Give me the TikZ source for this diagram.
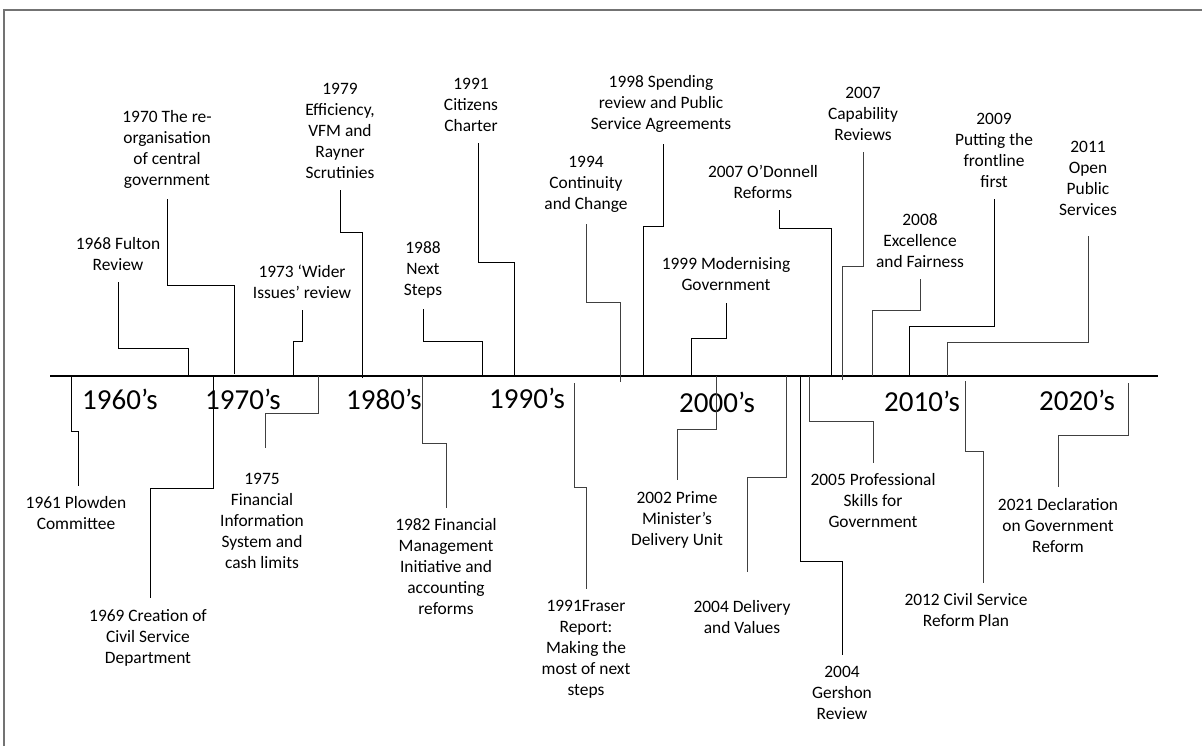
\documentclass[tikz,border=0pt]{standalone}
\usepackage{fontspec}
\setmainfont{Carlito}
\usepackage{tikz}

\begin{document}
\begin{tikzpicture}[x=0.5pt, y=-0.5pt,
	event/.style={align=center, inner xsep=2pt, inner ysep=5.5pt, font=\fontsize{8.7}{10.5}\selectfont},
	decade/.style={inner sep=0pt, font=\fontsize{14.5}{17}\selectfont},
	link/.style={draw=black, line width=0.5pt},
	linkgrey/.style={draw=black!75, line width=0.5pt}]

	\useasboundingbox (0,0) rectangle (1202,746);

	% Frame and time axis
	\draw [black!55, line width=1pt] (4,746) -- (4,10) -- (1202,10);
	\coordinate (axis-start) at (50,376);
	\coordinate (axis-end)   at (1158,376);
	\draw [line width=1.2pt] (axis-start) -- (axis-end);

	% Decades
	\node [decade] (d1960) at (120,399)  {1960’s};
	\node [decade] (d1970) at (243,399)  {1970’s};
	\node [decade] (d1980) at (384,399)  {1980’s};
	\node [decade] (d1990) at (527,398)  {1990’s};
	\node [decade] (d2000) at (717,402)  {2000’s};
	\node [decade] (d2010) at (922,401)  {2010’s};
	\node [decade] (d2020) at (1077,400) {2020’s};

	% Events above the axis
	\node [event] (fulton)     at (118,254)   {1968 Fulton\\Review};
	\node [event] (reorg)      at (167,149)   {1970 The re-\\organisation\\of central\\government};
	\node [event] (wider)      at (302,282)   {1973 ‘Wider\\Issues’ review};
	\node [event] (effic)      at (340,131)   {1979\\Efficiency,\\VFM and\\Rayner\\Scrutinies};
	\node [event] (nextsteps)  at (423,269.5) {1988\\Next\\Steps};
	\node [event] (charter)    at (471,104.5) {1991\\Citizens\\Charter};
	\node [event] (continuity) at (586,184.5) {1994\\Continuity\\and Change};
	\node [event] (spending)   at (661,104)   {1998 Spending\\review and Public\\Service Agreements};
	\node [event] (modern)     at (726,274.5) {1999 Modernising\\Government};
	\node [event] (odonnell)   at (763,182)   {2007 O’Donnell\\Reforms};
	\node [event] (capability) at (863,113.5) {2007\\Capability\\Reviews};
	\node [event] (excellence) at (920,240.5) {2008\\Excellence\\and Fairness};
	\node [event] (frontline)  at (994,150.5) {2009\\Putting the\\frontline\\first};
	\node [event] (openps)     at (1088,178.5) {2011\\Open\\Public\\Services};

	% Events below the axis
	\node [event] (plowden)     at (76,513.5)  {1961 Plowden\\Committee};
	\node [event] (creation)    at (148,637.5) {1969 Creation of\\Civil Service\\Department};
	\node [event] (fis)         at (262,521)   {1975\\Financial\\Information\\System and\\cash limits};
	\node [event] (fmi)         at (446,567)   {1982 Financial\\Management\\Initiative and\\accounting\\reforms};
	\node [event] (fraser)      at (586,649)   {1991Fraser\\Report:\\Making the\\most of next\\steps};
	\node [event] (pmdu)        at (677,519.5) {2002 Prime\\Minister’s\\Delivery Unit};
	\node [event] (delivery)    at (742,617.5) {2004 Delivery\\and Values};
	\node [event] (gershon)     at (842,693)   {2004\\Gershon\\Review};
	\node [event] (skills)      at (873,501)   {2005 Professional\\Skills for\\Government};
	\node [event] (csrp)        at (966,610.5) {2012 Civil Service\\Reform Plan};
	\node [event] (declaration) at (1058,525.5) {2021 Declaration\\on Government\\Reform};

	% Points on the axis
	\coordinate (t-fulton)     at (188,376);
	\coordinate (t-reorg)      at (234,374);
	\coordinate (t-wider)      at (293,376);
	\coordinate (t-effic)      at (362,378);
	\coordinate (t-nextsteps)  at (482,376);
	\coordinate (t-charter)    at (514,376);
	\coordinate (t-continuity) at (620,382);
	\coordinate (t-spending)   at (643,376);
	\coordinate (t-modern)     at (691,376);
	\coordinate (t-odonnell)   at (831,376);
	\coordinate (t-capability) at (842,380);
	\coordinate (t-excellence) at (872,376);
	\coordinate (t-frontline)  at (909,376);
	\coordinate (t-openps)     at (947,376);

	\coordinate (b-plowden)     at (71,376);
	\coordinate (b-creation)    at (213,376);
	\coordinate (b-fis)         at (318,376);
	\coordinate (b-fmi)         at (422,376);
	\coordinate (b-fraser)      at (574,383);
	\coordinate (b-pmdu)        at (716,376);
	\coordinate (b-delivery)    at (786,376);
	\coordinate (b-gershon)     at (800,376);
	\coordinate (b-skills)      at (809,376);
	\coordinate (b-csrp)        at (965,381);
	\coordinate (b-declaration) at (1128,383);

	% Paths
	\draw [link]     (t-fulton)     -- ++(0,-28)  -| (fulton.south);
	\draw [link]     (t-reorg)      -- ++(0,-89)  -| (reorg.south);
	\draw [link]     (t-wider)      -- ++(0,-35)  -| (wider.south);
	\draw [link]     (t-effic)      -- ++(0,-146) -| (effic.south);
	\draw [link]     (t-nextsteps)  -- ++(0,-35)  -| (nextsteps.south);
	\draw [link]     (t-charter)    -- ++(0,-114) -| ([xshift=3.5pt]charter.south);
	\draw [linkgrey] (t-continuity) -- ++(0,-80)  -| (continuity.south);
	\draw [link]     (t-spending)   -- ++(0,-150) -| ([xshift=1pt]spending.south);
	\draw [link]     (t-modern)     -- ++(0,-38)  -| (modern.south);
	\draw [link]     (t-odonnell)   -- ++(0,-148) -| ([xshift=8pt]odonnell.south);
	\draw [linkgrey] (t-capability) -- ++(0,-114) -| (capability.south);
	\draw [linkgrey] (t-excellence) -- ++(0,-66)  -| (excellence.south);
	\draw [link]     (t-frontline)  -- ++(0,-50)  -| (frontline.south);
	\draw [linkgrey] (t-openps)     -- ++(0,-34)  -| ([yshift=-4.5pt]openps.south);

	\draw [link]     (b-plowden)     -- ++(0,55)  -| ([xshift=1pt]plowden.north);
	\draw [link]     (b-creation)    -- ++(0,112) -| ([xshift=1pt]creation.north);
	\draw [linkgrey] (b-fis)         -- ++(0,37)  -| ([xshift=1.5pt,yshift=7pt]fis.north);
	\draw [linkgrey] (b-fmi)         -- ++(0,67)  -| (fmi.north);
	\draw [linkgrey] (b-fraser)      -- ++(0,104) -| (fraser.north);
	\draw [linkgrey] (b-pmdu)        -- ++(0,53)  -| (pmdu.north);
	\draw [linkgrey] (b-delivery)    -- ++(0,101) -| ([xshift=2.5pt,yshift=9pt]delivery.north);
	\draw [link]     (b-gershon)     -- ++(0,185) -| (gershon.north);
	\draw [linkgrey] (b-skills)      -- ++(0,45)  -| (skills.north);
	\draw [linkgrey] (b-csrp)        -- ++(0,70)  -| ([xshift=8.5pt]csrp.north);
	\draw [linkgrey] (b-declaration) -- ++(0,52)  -| (declaration.north);

\end{tikzpicture}
\end{document}
